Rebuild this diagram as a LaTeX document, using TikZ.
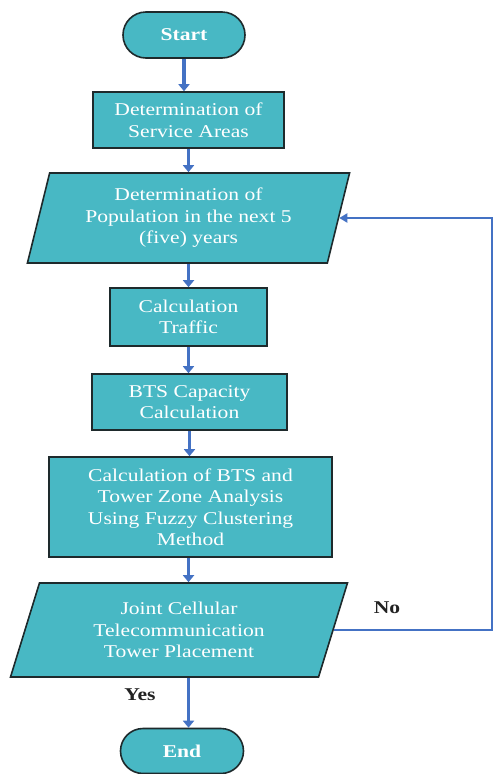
\documentclass[tikz,border=0pt]{standalone}
\usepackage{fontspec}
\setmainfont{Liberation Serif}[FakeStretch=1.2]
\usetikzlibrary{shapes.geometric,shapes.misc,arrows.meta}
\definecolor{tealfill}{HTML}{48B8C4}
\definecolor{arrowblue}{HTML}{4472C4}
\definecolor{edgecol}{HTML}{1E2A2C}
\definecolor{labelcol}{HTML}{222222}
\begin{document}
\begin{tikzpicture}[x=1pt,y=-1pt,
  box/.style={draw=edgecol,line width=1.6pt,fill=tealfill,text=white,align=center,
    font=\fontsize{18}{21.5}\selectfont,inner sep=0pt},
  procbox/.style={box,rectangle},
  termbox/.style={box,rounded rectangle,font=\fontsize{18}{21.5}\selectfont\bfseries},
  iobox/.style={box,trapezium,trapezium stretches=true},
  arr/.style={draw=arrowblue,line width=3.4pt,-{Triangle[length=7pt,width=11pt]}},
  fbarr/.style={draw=arrowblue,line width=2pt,-{Triangle[length=8pt,width=9pt]}},
  lbl/.style={text=labelcol,font=\fontsize{18}{22}\selectfont\bfseries}
]
\useasboundingbox (0,0) rectangle (494,774);
\fill[white] (0,0) rectangle (494,774);

\node[termbox,minimum width=122,minimum height=46] (start) at (184,35) {Start};
\node[procbox,minimum width=191,minimum height=56] (s1) at (188.5,120) {Determination of\\Service Areas};
\node[iobox,minimum width=323,minimum height=90,trapezium left angle=74.5,trapezium right angle=105.5] (p1) at (188.5,218) {Determination of\\Population in the next 5\\(five) years};
\node[procbox,minimum width=157,minimum height=58] (s2) at (188.5,317) {Calculation\\Traffic};
\node[procbox,minimum width=195,minimum height=56] (s3) at (189.5,402) {BTS Capacity\\Calculation};
\node[procbox,minimum width=283,minimum height=100] (s4) at (190.5,507) {Calculation of BTS and\\Tower Zone Analysis\\Using Fuzzy Clustering\\Method};
\node[iobox,minimum width=338,minimum height=94,trapezium left angle=72.3,trapezium right angle=107.7] (p2) at (179,630) {Joint Cellular\\Telecommunication\\Tower Placement};
\node[termbox,minimum width=123,minimum height=45] (stop) at (182,751) {End};

\node[lbl] (yes) at (140,695) {Yes};
\node[lbl] (no) at (387,608) {No};

\coordinate (fb) at (492,0);

\draw[arr] (start.south) -- (start.south |- s1.north);
\draw[arr] (s1.south) -- (s1.south |- p1.north);
\draw[arr] (p1.south) -- (p1.south |- s2.north);
\draw[arr] (s2.south) -- (s2.south |- s3.north);
\draw[arr] (s3.south) -- (s3.south |- s4.north);
\draw[arr] (s4.south -| p1.south) -- (p1.south |- p2.north);
\draw[arr] (p1.south |- p2.south) -- (p1.south |- stop.north);
\draw[fbarr] (p2.east) -- (p2.east -| fb) -- (p1.east -| fb) -- (p1.east);
\end{tikzpicture}
\end{document}
